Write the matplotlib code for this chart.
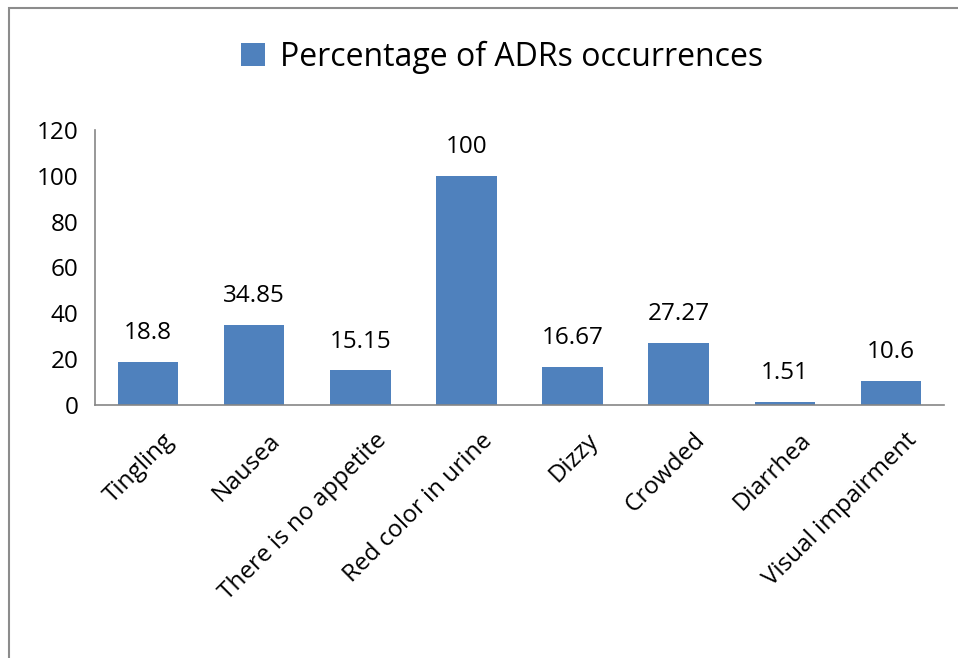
import matplotlib.pyplot as plt
import matplotlib.patches as mpatches
import matplotlib.transforms as mtransforms

plt.rcParams["font.family"] = ["Open Sans", "DejaVu Sans"]

# data
categories = ["Tingling", "Nausea", "There is no appetite", "Red color in urine",
              "Dizzy", "Crowded", "Diarrhea", "Visual impairment"]
values = [18.8, 34.85, 15.15, 100, 16.67, 27.27, 1.51, 10.6]
value_labels = ["18.8", "34.85", "15.15", "100", "16.67", "27.27", "1.51", "10.6"]
yticks = [0, 20, 40, 60, 80, 100, 120]

bar_color = "#4F81BD"
spine_color = "#868686"
fs = 17.5

fig = plt.figure(figsize=(9.58, 6.58), dpi=100)

# outer frame of the chart area
frame = mpatches.Rectangle((9 / 958, -0.1), 1.2, 1 - 8 / 658 + 0.1,
                           transform=fig.transFigure, fill=False,
                           edgecolor="#8c8c8c", linewidth=1.5)
fig.patches.append(frame)

ax = fig.add_axes([95 / 958, 1 - 405 / 658, (944 - 95) / 958, (405 - 130) / 658])
x = range(len(categories))
ax.bar(x, values, width=0.57, color=bar_color, label="Percentage of ADRs occurrences")

for xi, v, lab in zip(x, values, value_labels):
    ax.annotate(lab, (xi, v), xytext=(0, 12), textcoords="offset points",
                ha="center", va="bottom", fontsize=fs)

ax.set_xlim(-0.5, len(categories) - 0.5)
ax.set_ylim(0, 120)
ax.set_yticks(yticks)
ax.set_yticklabels([str(t) for t in yticks], fontsize=fs)
ax.set_xticks(list(x))
ax.set_xticklabels(categories, rotation=45, ha="right", rotation_mode="anchor",
                   fontsize=fs)
ax.tick_params(axis="y", length=0, pad=12)
ax.tick_params(axis="x", length=0, pad=14)

# shift rotated labels a bit to the right, like the original
offset = mtransforms.ScaledTranslation(14 / 100, -4 / 100, fig.dpi_scale_trans)
for lbl in ax.get_xticklabels():
    lbl.set_transform(lbl.get_transform() + offset)

for side in ["top", "right"]:
    ax.spines[side].set_visible(False)
for side in ["left", "bottom"]:
    ax.spines[side].set_color(spine_color)
    ax.spines[side].set_linewidth(1.2)

leg = fig.legend(loc="center", bbox_to_anchor=(502 / 958, 1 - 57 / 658),
                 frameon=False, fontsize=23, handlelength=0.75, handleheight=0.75,
                 handletextpad=0.45)

fig.savefig("out.png", dpi=100)
